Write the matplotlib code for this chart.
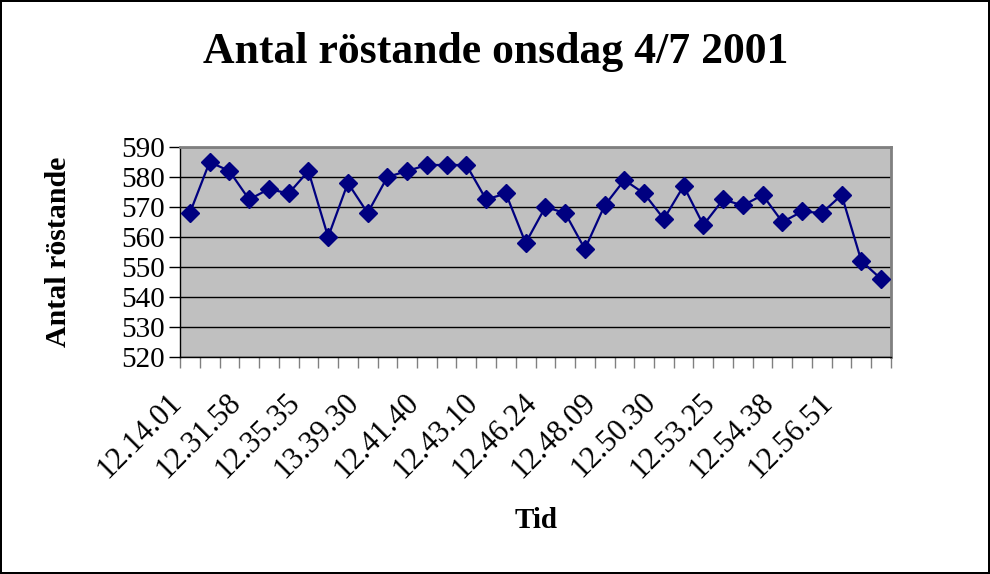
import numpy as np
import matplotlib.pyplot as plt
from matplotlib.transforms import ScaledTranslation

# Antal röstande vid varje omröstning, onsdag 4/7 2001
votes = [568, 585, 582, 572.5, 576, 574.5, 582, 560, 578, 568,
         580, 582, 584, 584, 584, 572.5, 574.5, 558, 570, 568,
         556, 570.5, 579, 574.5, 566, 577, 564, 572.5, 570.5, 574,
         565, 568.5, 568, 574, 552, 546]

# tidsetiketter, var tredje kategori
tick_labels = ["12.14.01", "12.31.58", "12.35.35", "13.39.30", "12.41.40", "12.43.10",
               "12.46.24", "12.48.09", "12.50.30", "12.53.25", "12.54.38", "12.56.51"]

yticks = [520, 530, 540, 550, 560, 570, 580, 590]

serif = ["Liberation Serif", "DejaVu Serif"]
plt.rcParams["font.family"] = serif

fig = plt.figure(figsize=(9.9, 5.74), dpi=100)
fig.patch.set_edgecolor("black")
fig.patch.set_linewidth(1.5)

ax = fig.add_axes([180 / 990, 1 - 357 / 574, 711 / 990, 210 / 574])
ax.set_facecolor("#c0c0c0")

x = np.arange(len(votes))
ax.plot(x, votes, color="#000080", linewidth=1.6, marker="D",
        markersize=9, markerfacecolor="#000080", markeredgecolor="#000080",
        zorder=3, clip_on=False)

ax.set_xlim(-0.5, len(votes) - 0.5)
ax.set_ylim(520, 590)
ax.set_yticks(yticks)
ax.yaxis.grid(True, color="black", linewidth=1)
ax.set_axisbelow(True)
ax.tick_params(axis="y", direction="out", length=8, width=1, labelsize=21, pad=3)

# kategoriaxel: streck mellan kategorierna, etiketter på var tredje
ax.set_xticks(np.arange(-0.5, len(votes), 1.0), minor=True)
ax.set_xticks(x[::3])
ax.set_xticklabels(tick_labels, rotation=45, ha="right", rotation_mode="anchor")
ax.tick_params(axis="x", which="major", length=0, labelsize=22, pad=22)
ax.tick_params(axis="x", which="minor", direction="out", length=8, width=1, color="#808080")
shift = ScaledTranslation(-23 / 100, 0, fig.dpi_scale_trans)
for lbl in ax.get_xticklabels():
    lbl.set_transform(lbl.get_transform() + shift)

for side in ["top", "right"]:
    ax.spines[side].set_color("#808080")
    ax.spines[side].set_linewidth(2)
for side in ["left", "bottom"]:
    ax.spines[side].set_color("black")
    ax.spines[side].set_linewidth(1)

fig.text(0.5 * (204 + 787) / 990, 1 - 52 / 574, "Antal röstande onsdag 4/7 2001",
         ha="center", va="center", fontsize=31.5, fontweight="bold")
fig.text(58 / 990, 1 - 252 / 574, "Antal röstande", rotation=90,
         ha="center", va="center", fontsize=21.5, fontweight="bold")
fig.text(536 / 990, 1 - 520 / 574, "Tid", ha="center", va="center",
         fontsize=21, fontweight="bold")

fig.savefig("out.png", dpi=100, edgecolor=fig.get_edgecolor())
